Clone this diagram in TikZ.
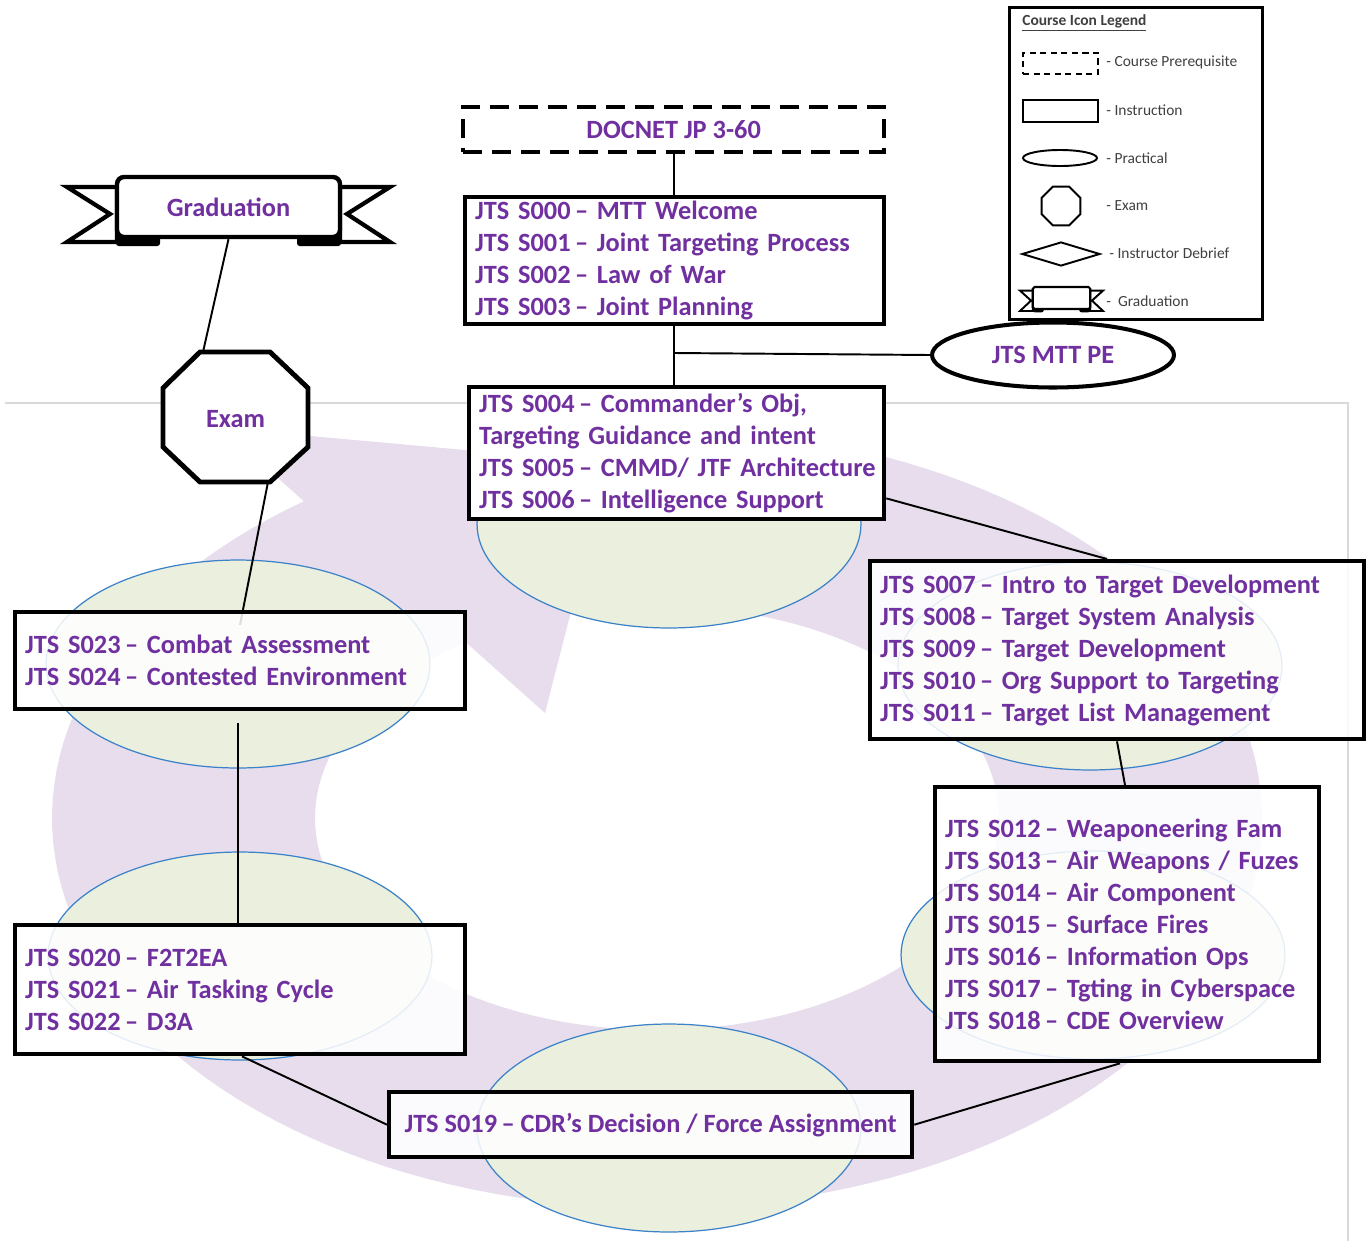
\documentclass[tikz,border=0pt]{standalone}
\usepackage{fontspec}
\setmainfont{Carlito}
\usetikzlibrary{shapes.geometric,calc}
\definecolor{jpurple}{RGB}{112,48,160}
\definecolor{ringc}{RGB}{231,221,237}
\definecolor{ellfill}{RGB}{234,239,222}
\definecolor{elldraw}{RGB}{60,130,200}
\definecolor{framec}{RGB}{217,217,217}
\definecolor{legtext}{RGB}{64,64,64}
\newcommand\mainf{\fontsize{15}{18.2}\selectfont\bfseries}
\newcommand\legf{\fontsize{8.8}{10.5}\selectfont}
\newcommand\jl[1]{\mbox{#1}}
\newcommand\ribbontails[5]{%
 \begin{scope}[shift={(#1,#2)},xscale=#3,yscale=#4]
  \draw[line width=#5, fill=white] (-111.5,-24) -- (-161.5,-24) -- (-118.5,3) -- (-161.5,31) -- (-111.5,31) -- cycle;
  \draw[line width=#5, fill=white] (111.5,-24) -- (161.5,-24) -- (118.5,3) -- (161.5,31) -- (111.5,31) -- cycle;
  \fill[rounded corners=1.5pt] (-112.5,20) rectangle (-68.5,35);
  \fill[rounded corners=1.5pt] (68.5,20) rectangle (112.5,35);
 \end{scope}}
\pgfdeclarelayer{bg}
\pgfdeclarelayer{mid}
\pgfsetlayers{bg,mid,main}
\tikzset{
 jbox/.style={draw, line width=2.5pt, fill=white, fill opacity=0.86, text opacity=1,
   inner xsep=0.2cm, inner ysep=0pt, align=left, anchor=north west, text=jpurple, font=\mainf},
 practical/.style={ellipse, draw=elldraw, line width=0.7pt, fill=ellfill, inner sep=0pt,
   minimum width=7.68cm, minimum height=4.16cm},
 conn/.style={line width=1.1pt},
 leglabel/.style={anchor=west, font=\legf, text=legtext, inner sep=0pt},
 lgicon/.style={draw, line width=1.1pt, inner sep=0pt, fill=white}
}
\begin{document}
\begin{tikzpicture}[x=0.02cm,y=-0.02cm, line join=miter]
\useasboundingbox (0,0) rectangle (1366,1241);

% ---------- background: frame, circular arrow, practical ellipses
\begin{pgfonlayer}{bg}
 \draw[framec, line width=0.8pt] (5,403) -- (1348,403) -- (1348,1241);
 \fill[ringc] plot[domain=-85:234.3,samples=150] ({657+605*cos(\x)},{818+390*sin(\x)})
   -- (222,428) -- (609,463) -- (545,713)
   -- plot[domain=236:-85,samples=150] ({657+342*cos(\x)},{818+212*sin(\x)}) -- cycle;
 \node[practical] (e004) at (669,524) {};
 \node[practical] (e007) at (1090,666) {};
 \node[practical] (e012) at (1093,955) {};
 \node[practical] (e019) at (669,1128) {};
 \node[practical] (e020) at (240,956) {};
 \node[practical] (e023) at (238,664) {};
\end{pgfonlayer}

% ---------- course boxes
\node[draw, line width=2.5pt, dash pattern=on 0.38cm off 0.2cm, fill=white,
      minimum width=8.42cm, minimum height=0.9cm, anchor=north west, inner sep=0pt,
      text=jpurple, font=\mainf] (docnet) at (461,105) {DOCNET JP 3-60};

\node[jbox, text width=7.98cm, minimum height=2.54cm] (s000) at (463,195)
 {\jl{JTS S000\,– MTT Welcome}\\\jl{JTS S001\,– Joint Targeting Process}\\\jl{JTS S002\,– Law of War}\\\jl{JTS S003\,– Joint Planning}};

\node[jbox, fill opacity=1, text width=7.9cm, minimum height=2.64cm] (s004) at (467,385)
 {\jl{JTS S004\,– Commander’s Obj,}\\\jl{Targeting Guidance and intent}\\\jl{JTS S005\,– CMMD/ JTF Architecture}\\\jl{JTS S006\,– Intelligence Support}};

\node[ellipse, draw, line width=2.3pt, fill=white, minimum width=4.84cm, minimum height=1.3cm,
      text=jpurple, font=\mainf] (mtt) at (1053,355) {JTS MTT PE};

\node[jbox, text width=9.48cm, minimum height=3.56cm] (s007) at (868,559)
 {\jl{JTS S007\,– Intro to Target Development}\\\jl{JTS S008\,– Target System Analysis}\\\jl{JTS S009\,– Target Development}\\\jl{JTS S010\,– Org Support to Targeting}\\\jl{JTS S011\,– Target List Management}};

\node[jbox, text width=7.28cm, minimum height=5.48cm] (s012) at (933,785)
 {\jl{JTS S012\,– Weaponeering Fam}\\\jl{JTS S013\,– Air Weapons / Fuzes}\\\jl{JTS S014\,– Air Component}\\\jl{JTS S015\,– Surface Fires}\\\jl{JTS S016\,– Information Ops}\\\jl{JTS S017\,– Tgting in Cyberspace}\\\jl{JTS S018\,– CDE Overview}};

\node[jbox, align=center, inner xsep=0pt, minimum width=10.46cm, minimum height=1.3cm] (s019) at (387,1090)
 {JTS S019\,– CDR’s Decision / Force Assignment};

\node[jbox, text width=8.6cm, minimum height=2.58cm] (s020) at (13,923)
 {\jl{JTS S020\,– F2T2EA}\\\jl{JTS S021\,– Air Tasking Cycle}\\\jl{JTS S022\,– D3A}};

\node[jbox, text width=8.6cm, minimum height=1.94cm] (s023) at (13,610)
 {\jl{JTS S023\,– Combat Assessment}\\\jl{JTS S024\,– Contested Environment}};

% ---------- exam octagon
\draw[line width=2.8pt, fill=white] (200,352) -- (270,352) -- (308,388) -- (308,447)
  -- (270,482) -- (200,482) -- (163,447) -- (163,388) -- cycle;
\node[text=jpurple, font=\mainf] (exam) at (235.5,419) {Exam};
\coordinate (examtop) at (203,352);
\coordinate (exambot) at (268,482);

% ---------- graduation banner
\ribbontails{228.5}{211}{1}{1}{2.4pt}
\node[draw, line width=2.5pt, fill=white, rounded corners=4pt, minimum width=4.46cm,
      minimum height=1.2cm, text=jpurple, font=\mainf] (grad) at (228.5,207) {Graduation};

% ---------- connectors
\coordinate (j1) at (674,353);
\coordinate (c23a) at (240,625);
\coordinate (c23b) at (238,723);
\begin{pgfonlayer}{mid}
 \draw[conn] (docnet.south) -- (docnet.south |- s000.north);
 \draw[conn] (s000.south -| j1) -- (s004.north -| j1);
 \draw[conn] (j1) -- (mtt.west);
 \draw[conn] ($(s004.south east)+(0,-23)$) -- ($(s007.north west)+(239,0)$);
 \draw[conn] ($(s007.south west)+(249,0)$) -- ($(s012.north west)+(192,0)$);
 \draw[conn] ($(s012.south west)+(187,0)$) -- (s019.east);
 \draw[conn] (s019.west) -- ($(s020.south west)+(229,0)$);
 \draw[conn] (c23b) -- ($(s020.north west)+(225,0)$);
 \draw[conn] (grad.south) -- (examtop);
 \draw[conn] (exambot) -- (c23a);
\end{pgfonlayer}

% ---------- legend
\node[draw, line width=1.8pt, fill=white, minimum width=5.06cm, minimum height=6.24cm,
      anchor=north west, inner sep=0pt] (legend) at (1008,6) {};
\node[anchor=west, inner sep=0pt, font=\legf\bfseries, text=legtext] (legtitle) at (1022,23) {\underline{Course Icon Legend}};
\node[lgicon, dash pattern=on 3.5pt off 2.5pt, minimum width=1.5cm, minimum height=0.42cm, anchor=north west] (lg1) at (1022,52) {};
\node[lgicon, minimum width=1.5cm, minimum height=0.44cm, anchor=north west] (lg2) at (1022,99) {};
\node[lgicon, ellipse, minimum width=1.48cm, minimum height=0.32cm] (lg3) at (1060,158) {};
\node[lgicon, regular polygon, regular polygon sides=8, minimum size=0.84cm] (lg4) at (1061,206) {};
\node[lgicon, diamond, aspect=3, minimum width=1.56cm, minimum height=0.48cm] (lg5) at (1061,254) {};
\ribbontails{1061.5}{299.5}{0.257}{0.37}{1.1pt}
\node[lgicon, line width=1.2pt, rounded corners=1pt, minimum width=1.15cm, minimum height=0.44cm] (lg6) at (1061.5,298) {};
\node[leglabel] (lt1) at (1106,62) {- Course Prerequisite};
\node[leglabel] (lt2) at (1106,110) {- Instruction};
\node[leglabel] (lt3) at (1106,158) {- Practical};
\node[leglabel] (lt4) at (1106,206) {- Exam};
\node[leglabel] (lt5) at (1109,253) {- Instructor Debrief};
\node[leglabel] (lt6) at (1106,301) {-\ \ Graduation};
\end{tikzpicture}
\end{document}
